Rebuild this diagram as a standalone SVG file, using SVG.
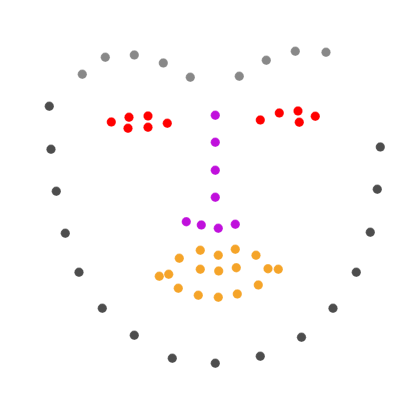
<svg xmlns="http://www.w3.org/2000/svg" width="400" height="400" viewBox="0 0 400 400">
<style>
circle{stroke:#ffffff;stroke-opacity:0.5;stroke-width:0.6}
.jaw circle{fill:#4d4d4d}
.brow circle{fill:#888888}
.eye circle{fill:#ff0000}
.nose circle{fill:#c010dc}
.mouth circle{fill:#f5a429}
</style>
<rect width="400" height="400" fill="#ffffff"/>
<g id="jaw" class="jaw">
<circle cx="49.3" cy="106.3" r="4.7"/>
<circle cx="51" cy="149.3" r="4.7"/>
<circle cx="56.3" cy="191.3" r="4.7"/>
<circle cx="65.3" cy="233.3" r="4.7"/>
<circle cx="79" cy="272.3" r="4.7"/>
<circle cx="102.3" cy="308.3" r="4.7"/>
<circle cx="134.3" cy="335.3" r="4.7"/>
<circle cx="172.3" cy="358.3" r="4.7"/>
<circle cx="215.3" cy="363.3" r="4.7"/>
<circle cx="260.3" cy="356.3" r="4.7"/>
<circle cx="301.5" cy="337.3" r="4.7"/>
<circle cx="333" cy="308.3" r="4.7"/>
<circle cx="356.3" cy="272.3" r="4.7"/>
<circle cx="370.3" cy="232.3" r="4.7"/>
<circle cx="377.3" cy="189.3" r="4.7"/>
<circle cx="380.3" cy="147" r="4.7"/>
</g>
<g id="brows" class="brow">
<circle cx="82.3" cy="74.3" r="4.7"/>
<circle cx="105.3" cy="57.3" r="4.7"/>
<circle cx="134.3" cy="55" r="4.7"/>
<circle cx="163.3" cy="63" r="4.7"/>
<circle cx="190.3" cy="77.3" r="4.7"/>
<circle cx="239.3" cy="76.3" r="4.7"/>
<circle cx="266.3" cy="60.3" r="4.7"/>
<circle cx="295.3" cy="51.3" r="4.7"/>
<circle cx="326" cy="52.3" r="4.7"/>
</g>
<g id="eyes" class="eye">
<circle cx="111.3" cy="122" r="4.7"/>
<circle cx="129" cy="117.3" r="4.7"/>
<circle cx="148" cy="116" r="4.7"/>
<circle cx="167.3" cy="123.3" r="4.7"/>
<circle cx="128" cy="128.3" r="4.7"/>
<circle cx="148" cy="127.3" r="4.7"/>
<circle cx="260.3" cy="120" r="4.7"/>
<circle cx="279.3" cy="113" r="4.7"/>
<circle cx="298" cy="111" r="4.7"/>
<circle cx="315.3" cy="116.3" r="4.7"/>
<circle cx="299.3" cy="122.3" r="4.7"/>
</g>
<g id="nose" class="nose">
<circle cx="215.3" cy="115.3" r="4.7"/>
<circle cx="215.3" cy="142.3" r="4.7"/>
<circle cx="215.3" cy="170.3" r="4.7"/>
<circle cx="215.3" cy="197.3" r="4.7"/>
<circle cx="186.3" cy="221.7" r="4.7"/>
<circle cx="201.3" cy="225" r="4.7"/>
<circle cx="218.3" cy="228.3" r="4.7"/>
<circle cx="235.3" cy="224.3" r="4.7"/>
</g>
<g id="mouth" class="mouth">
<circle cx="179.3" cy="258.3" r="4.7"/>
<circle cx="200.3" cy="250.3" r="4.7"/>
<circle cx="218.3" cy="255.3" r="4.7"/>
<circle cx="235.3" cy="249.3" r="4.7"/>
<circle cx="256" cy="255.3" r="4.7"/>
<circle cx="268" cy="268.7" r="4.7"/>
<circle cx="278.3" cy="269.3" r="4.7"/>
<circle cx="159.3" cy="276.3" r="4.7"/>
<circle cx="168.7" cy="274.3" r="4.7"/>
<circle cx="200.3" cy="269.3" r="4.7"/>
<circle cx="218.7" cy="271" r="4.7"/>
<circle cx="236.3" cy="267.7" r="4.7"/>
<circle cx="178.3" cy="288.3" r="4.7"/>
<circle cx="198.3" cy="295.3" r="4.7"/>
<circle cx="218.3" cy="297.3" r="4.7"/>
<circle cx="237.3" cy="294" r="4.7"/>
<circle cx="258.3" cy="285" r="4.7"/>
</g>
<g id="connectors"/>
</svg>
